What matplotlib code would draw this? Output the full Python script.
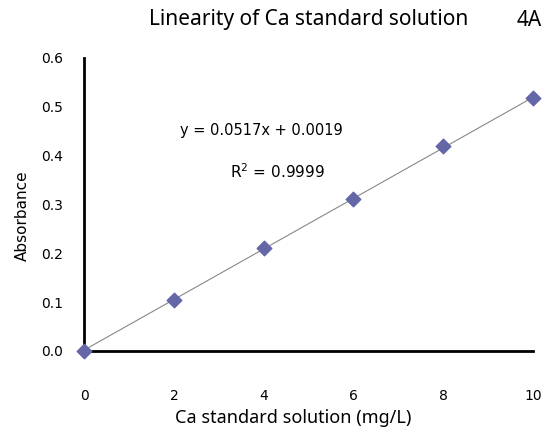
import matplotlib
matplotlib.use("Agg")
import matplotlib.pyplot as plt
import numpy as np

conc = [0, 2, 4, 6, 8, 10]
absorb = [0.000, 0.104, 0.210, 0.311, 0.419, 0.517]
slope = 0.0517
intercept = 0.0019
xticks = [0, 2, 4, 6, 8, 10]
yticks = [0.0, 0.1, 0.2, 0.3, 0.4, 0.5, 0.6]

fig = plt.figure(figsize=(5.5, 4.32), dpi=100)
ax = fig.add_axes([0.153, 0.1875, 0.816, 0.679])

xx = np.array([0, 10])
ax.plot(xx, slope * xx + intercept, color="#888888", lw=0.8, zorder=2)
ax.scatter(conc, absorb, marker="D", s=55, color="#6466a8", zorder=3, clip_on=False)

ax.set_xlim(0, 10)
ax.set_ylim(0, 0.6)
ax.set_xticks(xticks)
ax.set_xticklabels([str(t) for t in xticks])
ax.set_yticks(yticks)
ax.set_yticklabels([f"{t:.1f}" for t in yticks])
ax.tick_params(axis="both", length=0, labelsize=10)
ax.tick_params(axis="x", pad=27)
ax.tick_params(axis="y", pad=15)
for s in ["top", "right"]:
    ax.spines[s].set_visible(False)
for s in ["left", "bottom"]:
    ax.spines[s].set_linewidth(2)
    ax.spines[s].set_color("black")

fig.text(0.533, 0.032, "Ca standard solution (mg/L)", ha="center", va="center",
         family="Noto Sans", fontsize=13)
fig.text(0.04, 0.5, "Absorbance", ha="center", va="center", rotation=90, fontsize=11)

fig.text(0.562, 0.955, "Linearity of Ca standard solution", ha="center", va="center",
         family="Noto Sans", fontsize=15)
fig.text(0.963, 0.952, "4A", ha="center", va="center", family="Noto Sans", fontsize=15)

fig.text(0.476, 0.699, "y = 0.0517x + 0.0019", ha="center", va="center", fontsize=10.5)
fig.text(0.505, 0.603, r"R$^{2}$ = 0.9999", ha="center", va="center", fontsize=11)

fig.savefig("out.png", dpi=100)
